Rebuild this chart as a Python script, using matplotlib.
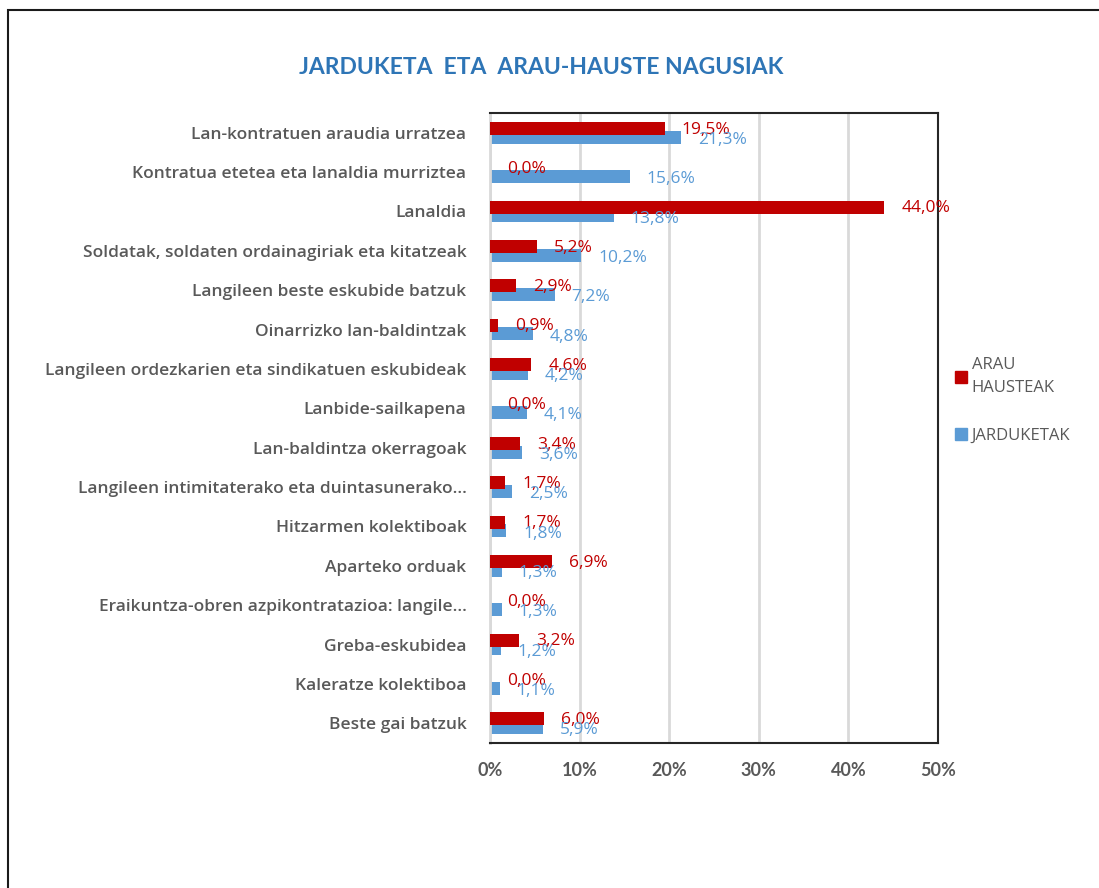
import numpy as np
import matplotlib
matplotlib.use("Agg")
import matplotlib.pyplot as plt
from matplotlib.patches import Rectangle, Patch

plt.rcParams['font.family'] = ['Open Sans', 'DejaVu Sans']

# --- datuak ---
categories = [
    "Lan-kontratuen araudia urratzea",
    "Kontratua etetea eta lanaldia murriztea",
    "Lanaldia",
    "Soldatak, soldaten ordainagiriak eta kitatzeak",
    "Langileen beste eskubide batzuk",
    "Oinarrizko lan-baldintzak",
    "Langileen ordezkarien eta sindikatuen eskubideak",
    "Lanbide-sailkapena",
    "Lan-baldintza okerragoak",
    "Langileen intimitaterako eta duintasunerako...",
    "Hitzarmen kolektiboak",
    "Aparteko orduak",
    "Eraikuntza-obren azpikontratazioa: langile...",
    "Greba-eskubidea",
    "Kaleratze kolektiboa",
    "Beste gai batzuk",
]
arau_hausteak = [19.5, 0.0, 44.0, 5.2, 2.9, 0.9, 4.6, 0.0, 3.4, 1.7, 1.7, 6.9, 0.0, 3.2, 0.0, 6.0]
jarduketak = [21.3, 15.6, 13.8, 10.2, 7.2, 4.8, 4.2, 4.1, 3.6, 2.5, 1.8, 1.3, 1.3, 1.2, 1.1, 5.9]
xticks = [0, 10, 20, 30, 40, 50]

RED = "#C00000"
BLUE = "#5B9BD5"
GRAY = "#595959"

fig = plt.figure(figsize=(10.99, 8.88), dpi=100)
ax = fig.add_axes([490 / 1099, 1 - 743 / 888, 448 / 1099, 630 / 888])

y = np.arange(len(categories))
h = 0.33
ax.barh(y + 0.11, jarduketak, height=h, color=BLUE, zorder=2)
ax.barh(y - 0.11, arau_hausteak, height=h, color=RED, zorder=3)

# balio-etiketak
off = 1.9
for i, (r, b) in enumerate(zip(arau_hausteak, jarduketak)):
    ax.text(r + off, i - 0.08, f"{r:.1f}%".replace(".", ","), color=RED,
            fontsize=12.5, va="center", ha="left", zorder=5)
    ax.text(b + off, i + 0.18, f"{b:.1f}%".replace(".", ","), color=BLUE,
            fontsize=12.5, va="center", ha="left", zorder=5)

ax.set_xlim(0, 50)
ax.set_ylim(len(categories) - 0.5, -0.5)
ax.set_yticks(y)
ax.set_yticklabels(categories, fontsize=12.5, color=GRAY, fontweight="semibold")
ax.set_xticks(xticks)
ax.set_xticklabels([f"{t}%" for t in xticks], fontsize=13, color=GRAY,
                   fontweight="bold", family=["Lato", "DejaVu Sans"])
ax.tick_params(axis="both", length=0)
ax.tick_params(axis="y", pad=17)
ax.tick_params(axis="x", pad=14)

ax.grid(axis="x", color="#D9D9D9", linewidth=2, zorder=0)
ax.set_axisbelow(True)
for s in ["top", "right", "bottom"]:
    ax.spines[s].set_color("#262626")
    ax.spines[s].set_linewidth(1.5)
ax.spines["left"].set_color("#D9D9D9")
ax.spines["left"].set_linewidth(2)

fig.text(541 / 1099, 1 - 68 / 888, "JARDUKETA  ETA  ARAU-HAUSTE NAGUSIAK",
         ha="center", va="center", fontsize=16.5, fontweight="bold", color="#2E75B6",
         family=["Lato", "DejaVu Sans"])

handles = [Patch(color=RED, label="ARAU\nHAUSTEAK"), Patch(color=BLUE, label="JARDUKETAK")]
leg = fig.legend(handles=handles, loc="upper left", bbox_to_anchor=(940 / 1099, 1 - 342 / 888),
                 frameon=False, fontsize=12, handlelength=0.7, handleheight=0.7,
                 handletextpad=0.3, labelspacing=1.9, labelcolor=GRAY)
for t in leg.get_texts():
    t.set_linespacing(1.6)

# kanpoko markoa
fig.patches.append(Rectangle((8 / 1099, -0.1), 1.2, 1.1 - 10 / 888,
                             transform=fig.transFigure, fill=False,
                             edgecolor="#1a1a1a", linewidth=1.5))

fig.savefig("out.png", dpi=100)
